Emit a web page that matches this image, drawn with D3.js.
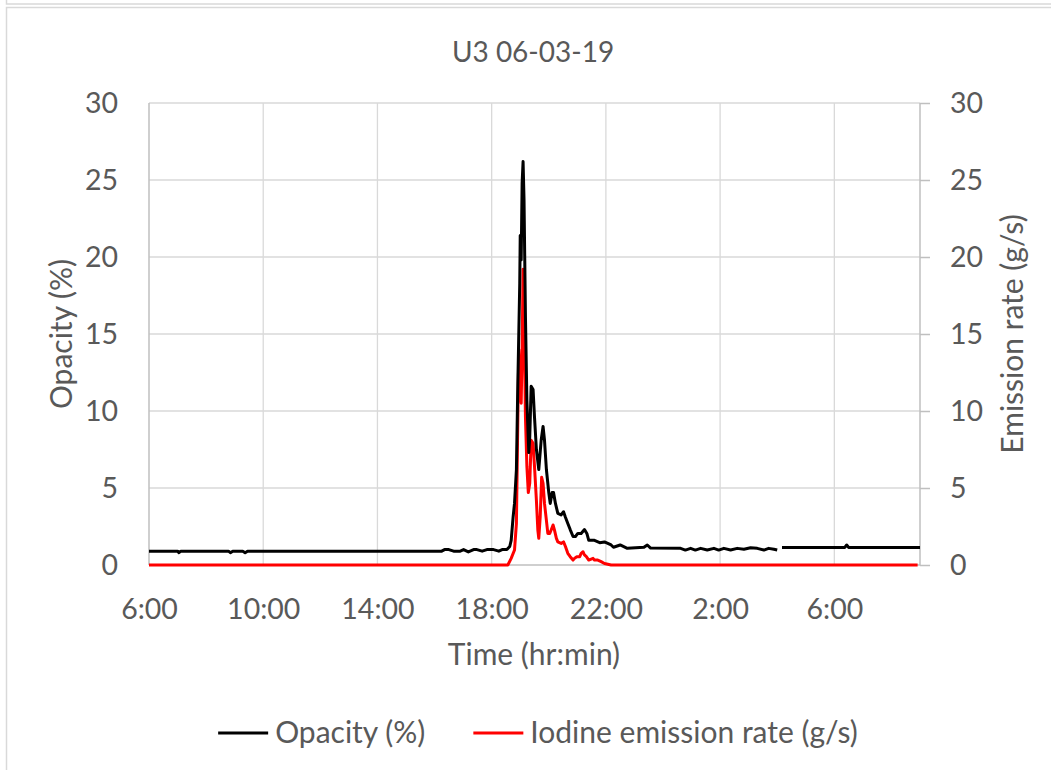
<!DOCTYPE html>
<html lang="en">
<head>
    <meta charset="UTF-8">
    <title>U3 06-03-19</title>
    <script src="https://d3js.org/d3.v7.min.js"></script>
    <style>
        body { margin: 0; background: #fff; }
        svg { font-family: Lato, "Open Sans", sans-serif; }
        .tick text { fill: #595959; font-size: 28.5px; }
        .label { fill: #595959; font-size: 30px; }
        .title { fill: #595959; font-size: 28px; }
        .grid { stroke: #d9d9d9; stroke-width: 1.3px; }
        .frame { stroke: #d9d9d9; stroke-width: 1.5px; fill: none; }
    </style>
</head>
<body>
    <div id="chart"></div>

    <script>
        // Opacity (%) readings, black series; null marks the gap in the record
        const opacityTimes = [
            "06:00", "07:00", "07:03", "07:07", "08:47", "08:51", "08:56", "09:17", "09:22", "09:27",
            "16:15", "16:21", "16:30", "16:40", "16:54", "17:01", "17:11", "17:22", "17:29", "17:40",
            "17:50", "18:04", "18:15", "18:22", "18:32", "18:38", "18:41", "18:45", "18:48", "18:52",
            "18:55", "18:59", "19:00", "19:02", "19:04", "19:06", "19:08", "19:11", "19:14", "19:18",
            "19:20", "19:23", "19:27", "19:30", "19:34", "19:39", "19:44", "19:48", "19:51", "19:55",
            "20:00", "20:03", "20:07", "20:10", "20:14", "20:19", "20:26", "20:31", "20:35", "20:40",
            "20:45", "20:51", "20:56", "21:01", "21:08", "21:15", "21:20", "21:24", "21:36", "21:47",
            "21:57", "22:04", "22:11", "22:16", "22:30", "22:45", "23:20", "23:27", "23:34", "00:37",
            "00:47", "00:58", "01:08", "01:19", "01:33", "01:47", "01:57", "02:08", "02:22", "02:36",
            "02:50", "03:04", "03:18", "03:32", "03:42", "03:53", "04:00", "04:05", "04:10", "06:22",
            "06:26", "06:30", "09:00"
        ];
        const opacityValues = [
            0.9, 0.9, 0.8, 0.9, 0.9, 0.8, 0.9, 0.9, 0.8, 0.9,
            0.9, 1.0, 1.0, 0.9, 0.9, 1.0, 0.85, 1.0, 1.0, 0.9,
            1.0, 1.0, 0.9, 1.0, 1.0, 1.2, 1.6, 3.1, 4.0, 6.2,
            11.8, 18.3, 21.4, 19.8, 24.8, 26.2, 23.7, 16.1, 10.7, 7.3,
            8.3, 11.6, 11.4, 9.6, 7.5, 6.2, 8.1, 9.0, 8.1, 6.2,
            4.7, 4.0, 4.7, 4.7, 4.0, 3.35, 3.25, 3.46, 3.1, 2.7,
            2.3, 1.85, 1.85, 2.05, 2.05, 2.3, 2.05, 1.6, 1.6, 1.45,
            1.5, 1.4, 1.3, 1.15, 1.3, 1.08, 1.15, 1.3, 1.1, 1.08,
            0.97, 1.08, 0.97, 1.08, 0.97, 1.08, 0.97, 1.08, 0.97, 1.08,
            1.02, 1.12, 1.08, 0.97, 1.08, 1.02, 0.97, null, 1.14, 1.14,
            1.3, 1.14, 1.14
        ];

        // Iodine emission rate (g/s), red series
        const emissionTimes = [
            "06:00", "18:34", "18:41", "18:48", "18:52", "18:55", "18:57", "19:00", "19:02", "19:04",
            "19:06", "19:08", "19:11", "19:14", "19:17", "19:20", "19:23", "19:27", "19:30", "19:34",
            "19:37", "19:39", "19:42", "19:45", "19:48", "19:51", "19:55", "19:58", "20:02", "20:05",
            "20:09", "20:12", "20:16", "20:19", "20:26", "20:31", "20:35", "20:40", "20:45", "20:51",
            "20:54", "20:59", "21:05", "21:08", "21:12", "21:15", "21:19", "21:24", "21:33", "21:36",
            "21:43", "21:50", "21:57", "22:11", "08:55"
        ];
        const emissionValues = [
            0, 0, 0.43, 0.97, 2.7, 9.6, 14.0, 11.8, 10.5, 14.0,
            19.2, 16.1, 9.6, 6.4, 4.7, 5.3, 8.1, 7.9, 6.4, 4.2,
            2.27, 1.73, 3.14, 5.7, 5.3, 4.0, 2.9, 2.05, 2.05, 2.27,
            2.6, 2.27, 1.73, 1.5, 1.4, 1.5, 1.2, 0.76, 0.54, 0.32,
            0.43, 0.54, 0.54, 0.76, 0.86, 0.65, 0.54, 0.32, 0.43, 0.32,
            0.32, 0.22, 0.1, 0, 0
        ];

        const xTickLabels = ["6:00", "10:00", "14:00", "18:00", "22:00", "2:00", "6:00"];
        const yTicks = [0, 5, 10, 15, 20, 25, 30];

        const width = 1051, height = 770;
        const plot = {left: 149, right: 920, top: 103, bottom: 565};

        // "HH:MM" strings run past midnight, so roll the day forward when the clock goes back
        function toDates(times) {
            let day = 0, prev = -1;
            return times.map(t => {
                const [h, m] = t.split(":").map(Number);
                if (h * 60 + m < prev) day++;
                prev = h * 60 + m;
                return new Date(2019, 5, 3 + day, h, m);
            });
        }

        const opacityData = toDates(opacityTimes).map((d, i) => ({t: d, v: opacityValues[i]}));
        const emissionData = toDates(emissionTimes).map((d, i) => ({t: d, v: emissionValues[i]}));
        const xTickDates = toDates(xTickLabels.map(s => s.padStart(5, "0")));

        const svg = d3.select("#chart").append("svg")
                      .attr("width", width)
                      .attr("height", height);

        // chart frame (and the edge of the box above it)
        svg.append("path").attr("class", "frame").attr("d", `M6.5,0V4H${width}`);
        svg.append("path").attr("class", "frame").attr("d", `M${width},7.5H6.5V${height}`);

        const x = d3.scaleTime()
                    .domain([new Date(2019, 5, 3, 6, 0), new Date(2019, 5, 4, 9, 0)])
                    .range([plot.left, plot.right]);
        const yLeft = d3.scaleLinear().domain([0, 30]).range([plot.bottom, plot.top]);
        const yRight = d3.scaleLinear().domain([0, 30]).range([plot.bottom, plot.top]);

        // gridlines
        svg.append("g").selectAll("line")
           .data(yTicks.slice(1))
           .enter().append("line")
           .attr("class", "grid")
           .attr("x1", plot.left).attr("x2", plot.right)
           .attr("y1", d => yLeft(d)).attr("y2", d => yLeft(d));

        svg.append("g").selectAll("line")
           .data(xTickDates.slice(1))
           .enter().append("line")
           .attr("class", "grid")
           .attr("x1", d => x(d)).attr("x2", d => x(d))
           .attr("y1", plot.top).attr("y2", plot.bottom);

        // axes
        const leftAxis = svg.append("g")
                            .attr("transform", `translate(${plot.left},0)`)
                            .call(d3.axisLeft(yLeft).tickValues(yTicks).tickSize(0).tickPadding(31));
        const rightAxis = svg.append("g")
                             .attr("transform", `translate(${plot.right},0)`)
                             .call(d3.axisRight(yRight).tickValues(yTicks).tickSize(10).tickPadding(20));
        const bottomAxis = svg.append("g")
                              .attr("transform", `translate(0,${plot.bottom})`)
                              .call(d3.axisBottom(x).tickValues(xTickDates).tickSize(0).tickPadding(34)
                                      .tickFormat(d3.timeFormat("%-H:%M")));

        [leftAxis, rightAxis, bottomAxis].forEach(g => {
            g.attr("font-family", null).attr("font-size", null);
            g.select(".domain").attr("stroke", "#bfbfbf").attr("stroke-width", 1.5);
            g.selectAll(".tick line").attr("stroke", "#bfbfbf").attr("stroke-width", 1.5);
        });
        bottomAxis.select(".domain").attr("d", `M${plot.left},0H${plot.right}`);
        leftAxis.select(".domain").attr("d", `M0,${plot.top}V${plot.bottom}`);
        rightAxis.select(".domain").attr("d", `M0,${plot.top}V${plot.bottom}`);

        // series
        const emissionLine = d3.line().x(d => x(d.t)).y(d => yRight(d.v));
        const opacityLine = d3.line().defined(d => d.v !== null).x(d => x(d.t)).y(d => yLeft(d.v));

        svg.append("path").datum(emissionData)
           .attr("fill", "none").attr("stroke", "#ff0000").attr("stroke-width", 3)
           .attr("stroke-linejoin", "round").attr("d", emissionLine);
        svg.append("path").datum(opacityData)
           .attr("fill", "none").attr("stroke", "#000000").attr("stroke-width", 3)
           .attr("stroke-linejoin", "round").attr("d", opacityLine);

        // titles
        svg.append("text").attr("class", "title").attr("x", 533).attr("y", 62)
           .attr("text-anchor", "middle").text("U3 06-03-19");
        svg.append("text").attr("class", "label").attr("x", 534).attr("y", 665)
           .attr("text-anchor", "middle").text("Time (hr:min)");
        svg.append("text").attr("class", "label").attr("transform", "translate(72,334) rotate(-90)")
           .attr("text-anchor", "middle").text("Opacity (%)");
        svg.append("text").attr("class", "label").attr("transform", "translate(1023,334) rotate(-90)")
           .attr("text-anchor", "middle").text("Emission rate (g/s)");

        // legend, centred under the plot
        const legendItems = [
            {name: "Opacity (%)", color: "#000000"},
            {name: "Iodine emission rate (g/s)", color: "#ff0000"}
        ];
        const legend = svg.append("g");
        let lx = 0;
        legendItems.forEach(item => {
            const g = legend.append("g").attr("transform", `translate(${lx},0)`);
            g.append("line").attr("x1", 0).attr("x2", 50).attr("y1", 0).attr("y2", 0)
             .attr("stroke", item.color).attr("stroke-width", 3);
            const t = g.append("text").attr("class", "label").attr("x", 57).attr("y", 10).text(item.name);
            lx += 57 + t.node().getComputedTextLength() + 48;
        });
        const legendWidth = lx - 48;
        legend.attr("transform", `translate(${538 - legendWidth / 2},733)`);
    </script>
</body>
</html>
